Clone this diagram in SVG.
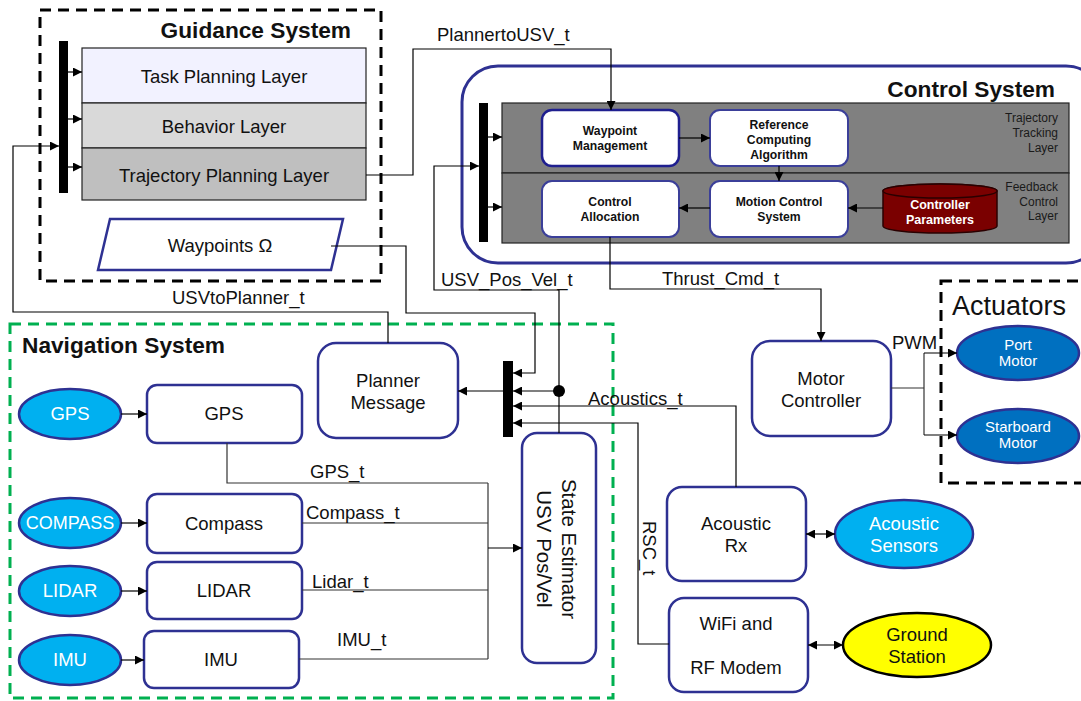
<svg xmlns="http://www.w3.org/2000/svg" width="1081" height="701" viewBox="0 0 1081 701">
<defs>
<marker id="arr" viewBox="0 0 10 10" refX="10" refY="5" markerWidth="10" markerHeight="9" orient="auto-start-reverse" markerUnits="userSpaceOnUse"><path d="M0,0 L10,5 L0,10 z" fill="#000"/></marker>
</defs>
<style>
text{font-family:"Liberation Sans",Arial,sans-serif;fill:#111}
.t17{font-size:18.5px;text-anchor:middle}
.t15{font-size:15px;text-anchor:middle}
.lbl{font-size:18.5px}
.b11{font-size:12.2px;font-weight:bold;text-anchor:middle}
.ttl{font-size:22.7px;font-weight:bold}
.side{font-size:12px;text-anchor:end;fill:#1a1a1a}
.w{fill:#fff}
.box{fill:#fff;stroke:#2e3192;stroke-width:2.5}
.cbox{fill:#fff;stroke:#3b3f99;stroke-width:2}
.sens{fill:#00b0f0;stroke:#2e3192;stroke-width:2.5}
.act{fill:#0070c0;stroke:#2e3192;stroke-width:2.5}
.bar{fill:#000}
.ln{fill:none;stroke:#333;stroke-width:1.2}
.la{fill:none;stroke:#000;stroke-width:1.2;marker-end:url(#arr)}
.lay{stroke:#222;stroke-width:1.2}
</style>

<g id="guidance">
<rect x="40" y="10" width="341" height="271" fill="none" stroke="#000" stroke-width="3" stroke-dasharray="11,7"/>
<text x="351" y="38" class="ttl" style="text-anchor:end">Guidance System</text>
<rect x="59" y="41" width="9" height="152" class="bar"/>
<g id="task-layer"><rect x="82" y="48" width="284" height="55" fill="#f2f2ff" class="lay"/><text x="224" y="83" class="t17">Task Planning Layer</text></g>
<g id="behavior-layer"><rect x="82" y="103" width="284" height="45" fill="#d9d9d9" class="lay"/><text x="224" y="133" class="t17">Behavior Layer</text></g>
<g id="trajectory-layer"><rect x="82" y="148" width="284" height="52" fill="#bfbfbf" class="lay"/><text x="224" y="182" class="t17">Trajectory Planning Layer</text></g>
<g id="waypoints"><path d="M110,219 L343,219 L331,270 L98,270 Z" fill="#fff" stroke="#2e3192" stroke-width="2.5"/><text x="220" y="252" class="t17">Waypoints Ω</text></g>
</g>

<g id="control">
<rect x="462" y="66" width="640" height="197" rx="36" fill="none" stroke="#2e3192" stroke-width="3"/>
<text x="1055" y="97" class="ttl" style="text-anchor:end">Control System</text>
<rect x="502" y="103" width="567" height="70" fill="#808080" stroke="#222" stroke-width="1.2"/>
<rect x="502" y="173" width="567" height="70" fill="#808080" stroke="#222" stroke-width="1.2"/>
<rect x="479" y="103" width="9" height="139" class="bar"/>
<text x="1058" y="122" class="side">Trajectory</text>
<text x="1058" y="137" class="side">Tracking</text>
<text x="1058" y="152" class="side">Layer</text>
<text x="1058" y="191" class="side">Feedback</text>
<text x="1058" y="206" class="side">Control</text>
<text x="1058" y="220" class="side">Layer</text>
<g id="waypoint-mgmt"><rect x="542" y="110" width="137" height="56" rx="10" fill="#fff" stroke="#1f1f8f" stroke-width="2.5"/><text x="610" y="135" class="b11">Waypoint</text><text x="610" y="150" class="b11">Management</text></g>
<g id="ref-computing"><rect x="710" y="110" width="138" height="56" rx="10" class="cbox"/><text x="779" y="129" class="b11">Reference</text><text x="779" y="144" class="b11">Computing</text><text x="779" y="159" class="b11">Algorithm</text></g>
<g id="control-alloc"><rect x="542" y="181" width="137" height="56" rx="10" class="cbox"/><text x="610" y="206" class="b11">Control</text><text x="610" y="221" class="b11">Allocation</text></g>
<g id="motion-control"><rect x="710" y="181" width="138" height="56" rx="10" class="cbox"/><text x="779" y="206" class="b11">Motion Control</text><text x="779" y="221" class="b11">System</text></g>
<g id="controller-params"><path d="M883,191 A57,7 0 0,1 997,191 L997,226 A57,7 0 0,1 883,226 Z" fill="#7a0000" stroke="#2a0000" stroke-width="1.5"/><ellipse cx="940" cy="191" rx="57" ry="7" fill="#7a0000" stroke="#2a0000" stroke-width="1.5"/><text x="940" y="209" class="b11 w" style="font-size:12.5px">Controller</text><text x="940" y="224" class="b11 w" style="font-size:12.5px">Parameters</text></g>
</g>

<g id="navigation">
<rect x="10" y="324" width="603" height="374" fill="none" stroke="#00b050" stroke-width="3" stroke-dasharray="11,7"/>
<text x="22" y="353" class="ttl">Navigation System</text>
<g id="planner-msg"><rect x="318" y="343" width="140" height="95" rx="18" class="box"/><text x="388" y="387" class="t17">Planner</text><text x="388" y="409" class="t17">Message</text></g>
<g id="gps-sensor"><ellipse cx="70" cy="414" rx="51" ry="25" class="sens"/><text x="70" y="420" class="t17 w">GPS</text></g>
<g id="compass-sensor"><ellipse cx="70" cy="523" rx="51" ry="25" class="sens"/><text x="70" y="529" class="t17 w" style="font-size:18px">COMPASS</text></g>
<g id="lidar-sensor"><ellipse cx="70" cy="591" rx="51" ry="25" class="sens"/><text x="70" y="597" class="t17 w">LIDAR</text></g>
<g id="imu-sensor"><ellipse cx="70" cy="660" rx="51" ry="25" class="sens"/><text x="70" y="666" class="t17 w">IMU</text></g>
<g id="gps-box"><rect x="147" y="385" width="155" height="58" rx="10" class="box"/><text x="224" y="420" class="t17">GPS</text></g>
<g id="compass-box"><rect x="147" y="494" width="155" height="59" rx="10" class="box"/><text x="224" y="530" class="t17">Compass</text></g>
<g id="lidar-box"><rect x="147" y="562" width="155" height="57" rx="10" class="box"/><text x="224" y="597" class="t17">LIDAR</text></g>
<g id="imu-box"><rect x="144" y="631" width="155" height="57" rx="10" class="box"/><text x="221" y="666" class="t17">IMU</text></g>
<g id="state-estimator"><rect x="522" y="433" width="74" height="230" rx="15" class="box"/>
<text transform="translate(562,549) rotate(90)" class="t17" style="font-size:20.5px">State Estimator</text>
<text transform="translate(537,549) rotate(90)" class="t17" style="font-size:20.5px">USV Pos/Vel</text></g>
<rect x="503" y="361" width="10" height="76" class="bar"/>
</g>

<g id="motor-controller"><rect x="752" y="341" width="139" height="95" rx="18" class="box"/><text x="821" y="385" class="t17">Motor</text><text x="821" y="407" class="t17">Controller</text></g>

<g id="actuators">
<rect x="941" y="281" width="160" height="202" fill="none" stroke="#000" stroke-width="3" stroke-dasharray="11,7"/>
<text x="952" y="315" style="font-size:27px">Actuators</text>
<g id="port-motor"><ellipse cx="1018" cy="353" rx="61" ry="27" class="act"/><text x="1018" y="350" class="t15 w">Port</text><text x="1018" y="366" class="t15 w">Motor</text></g>
<g id="starboard-motor"><ellipse cx="1018" cy="436" rx="61" ry="27" class="act"/><text x="1018" y="432" class="t15 w">Starboard</text><text x="1018" y="448" class="t15 w">Motor</text></g>
</g>

<g id="acoustic-rx"><rect x="667" y="487" width="139" height="94" rx="15" class="box"/><text x="736" y="530" class="t17">Acoustic</text><text x="736" y="552" class="t17">Rx</text></g>
<g id="acoustic-sensors"><ellipse cx="904" cy="534" rx="69" ry="34" class="sens"/><text x="904" y="530" class="t17 w">Acoustic</text><text x="904" y="552" class="t17 w">Sensors</text></g>
<g id="wifi"><rect x="669" y="598" width="139" height="94" rx="15" class="box"/><text x="736" y="630" class="t17">WiFi and</text><text x="736" y="674" class="t17">RF Modem</text></g>
<g id="ground-station"><ellipse cx="917" cy="645" rx="74" ry="32" fill="#ffff00" stroke="#000" stroke-width="2.5"/><text x="917" y="641" class="t17">Ground</text><text x="917" y="663" class="t17">Station</text></g>

<g id="connectors">
<path d="M68,72 H82" class="la"/>
<path d="M68,119 H82" class="la"/>
<path d="M68,167 H82" class="la"/>
<path d="M388,343 V312 H13 V146 H59" class="la"/>
<text x="172" y="304" class="lbl">USVtoPlanner_t</text>
<path d="M366,175 H413 V49 H611 V110" class="la"/>
<text x="437" y="41" class="lbl">PlannertoUSV_t</text>
<path d="M488,137 H502" class="la"/>
<path d="M488,207 H502" class="la"/>
<path d="M679,138 H710" class="la"/>
<path d="M779,166 V181" class="la"/>
<path d="M710,208 H679" class="la"/>
<path d="M883,208 H848" class="la"/>
<path d="M331,246 H406 V313 H535 V373 H513" class="la"/>
<path d="M559,433 V290 H434 V166 H479" class="la"/>
<text x="441" y="286" class="lbl">USV_Pos_Vel_t</text>
<path d="M559,391 H513" class="la"/>
<circle cx="559" cy="391" r="6" fill="#000"/>
<path d="M503,391 H458" class="la"/>
<path d="M736,487 V406 H513" class="la"/>
<text x="588" y="405" class="lbl">Acoustics_t</text>
<path d="M669,644 H638 V423 H513" class="la"/>
<text transform="translate(643,521) rotate(90)" class="lbl">RSC_t</text>
<path d="M610,237 V289 H821 V341" class="la"/>
<text x="662" y="285" class="lbl">Thrust_Cmd_t</text>
<path d="M891,388 H924" class="ln"/>
<path d="M924,353 V435" class="ln"/>
<path d="M924,353 H957" class="la"/>
<path d="M924,435 H957" class="la"/>
<text x="892" y="349" class="lbl">PWM</text>
<path d="M121,414 H147" class="la"/>
<path d="M121,523 H147" class="la"/>
<path d="M121,591 H147" class="la"/>
<path d="M121,660 H144" class="la"/>
<path d="M227,443 V483 H488" class="ln"/>
<path d="M302,523 H488" class="ln"/>
<path d="M302,590 H488" class="ln"/>
<path d="M299,659 H488" class="ln"/>
<path d="M488,483 V659" class="ln"/>
<path d="M488,548 H522" class="la"/>
<text x="310" y="478" class="lbl">GPS_t</text>
<text x="306" y="519" class="lbl">Compass_t</text>
<text x="312" y="588" class="lbl">Lidar_t</text>
<text x="337" y="646" class="lbl">IMU_t</text>
<path d="M806,534 H835" class="la" style="marker-start:url(#arr)"/>
<path d="M808,645 H843" class="la" style="marker-start:url(#arr)"/>
</g>
</svg>
